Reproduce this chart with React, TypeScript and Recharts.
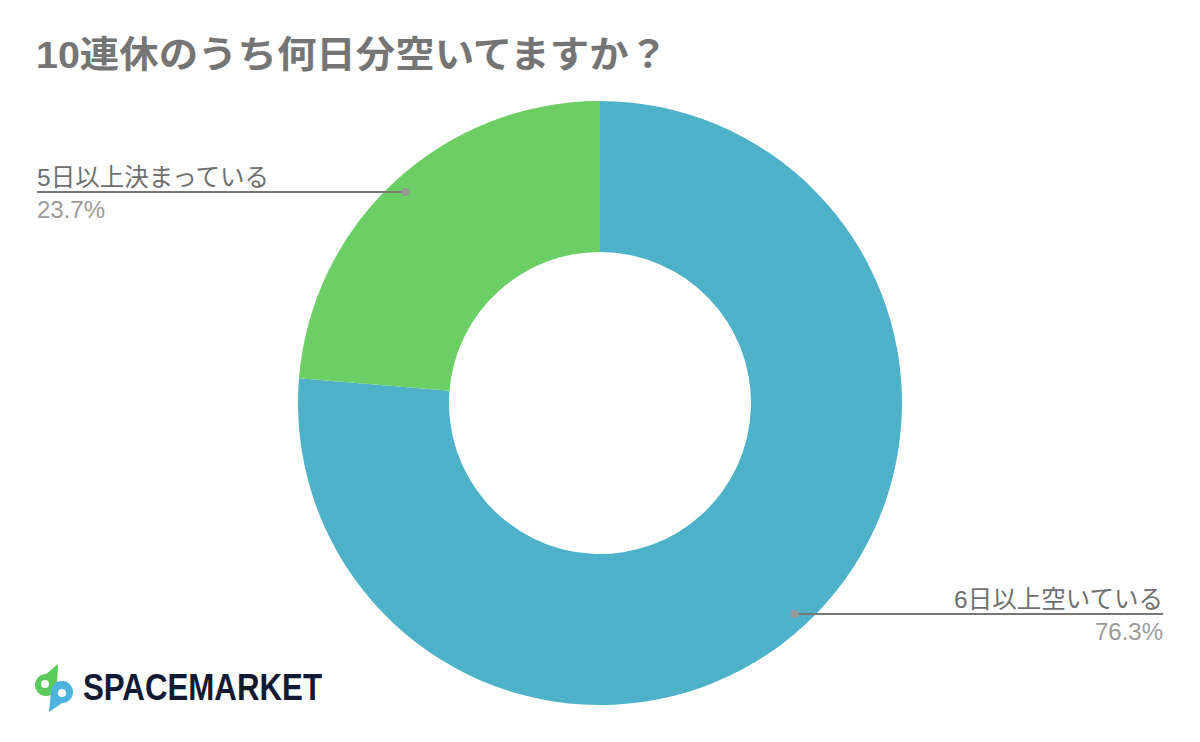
import { PieChart, Pie, Cell } from 'recharts';

const categories = ['6日以上空いている', '5日以上決まっている'];
const shares = [76.3, 23.7];
const sliceColors = ['#4db2c9', '#6bcf65'];

const chartTitle = '10連休のうち何日分空いてますか？';

const RADIAN = Math.PI / 180;
const FONT = "'Liberation Sans', 'Noto Sans CJK JP', sans-serif";

const renderLabel = (props: any) => {
    const { cx, cy, midAngle, outerRadius, name, value } = props;
    const r = outerRadius - 15;
    const x = cx + r * Math.cos(-midAngle * RADIAN);
    const y = cy + r * Math.sin(-midAngle * RADIAN);
    const left = x < cx;
    const edge = left ? 37 : 1163;
    return (
        <g>
            <line x1={edge} y1={y} x2={x} y2={y} stroke="#777" strokeWidth={2} />
            <circle cx={x} cy={y} r={4} fill="#999" />
            <text x={edge} y={y - 6} textAnchor={left ? 'start' : 'end'} fontSize={24.5} fill="#6f6f6f" fontFamily={FONT}>
                {name}
            </text>
            <text x={edge} y={y + 26} textAnchor={left ? 'start' : 'end'} fontSize={24} fill="#9a9a9a" fontFamily={FONT}>
                {value.toFixed(1)}%
            </text>
        </g>
    );
};

const App = () => {
    const data = categories.map((name, i) => ({ name, value: shares[i] }));

    return (
        <div style={{ position: 'fixed', left: 0, top: 0, width: 1200, height: 742, background: '#fff' }}>
            <PieChart width={1200} height={742} margin={{ top: 0, right: 0, bottom: 0, left: 0 }}>
                <Pie
                    data={data}
                    dataKey="value"
                    nameKey="name"
                    cx={600}
                    cy={403}
                    outerRadius={302}
                    innerRadius={151}
                    startAngle={90}
                    endAngle={-270}
                    stroke="none"
                    labelLine={false}
                    label={renderLabel}
                    isAnimationActive={false}
                >
                    {data.map((d, i) => (
                        <Cell key={d.name} fill={sliceColors[i]} />
                    ))}
                </Pie>
            </PieChart>
            {/* title and logo overlay */}
            <svg width={1200} height={742} style={{ position: 'absolute', left: 0, top: 0, pointerEvents: 'none' }}>
                <text x={36} y={68} fontSize={37} fontWeight="bold" fill="#757575" fontFamily={FONT} textLength={632} lengthAdjust="spacingAndGlyphs">
                    {chartTitle}
                </text>
                <g>
                    <path
                        d="M 35 685 A 11 11 0 0 1 46 674 L 58 664 L 57 685 A 11 11 0 0 1 46 696 A 11 11 0 0 1 35 685 Z"
                        fill="#5acb5a"
                    />
                    <path
                        d="M 73 692 A 11 11 0 0 1 62 703 L 49 712 L 51 692 A 11 11 0 0 1 62 681 A 11 11 0 0 1 73 692 Z"
                        fill="#4bb3dc"
                    />
                    <circle cx={45} cy={684} r={4} fill="#fff" />
                    <circle cx={62} cy={693} r={4} fill="#fff" />
                </g>
                <text x={83} y={700} fontSize={36} fontWeight="bold" fill="#121a33" fontFamily="'Liberation Sans', sans-serif" textLength={239} lengthAdjust="spacingAndGlyphs">
                    SPACEMARKET
                </text>
            </svg>
        </div>
    );
};

export default App;
